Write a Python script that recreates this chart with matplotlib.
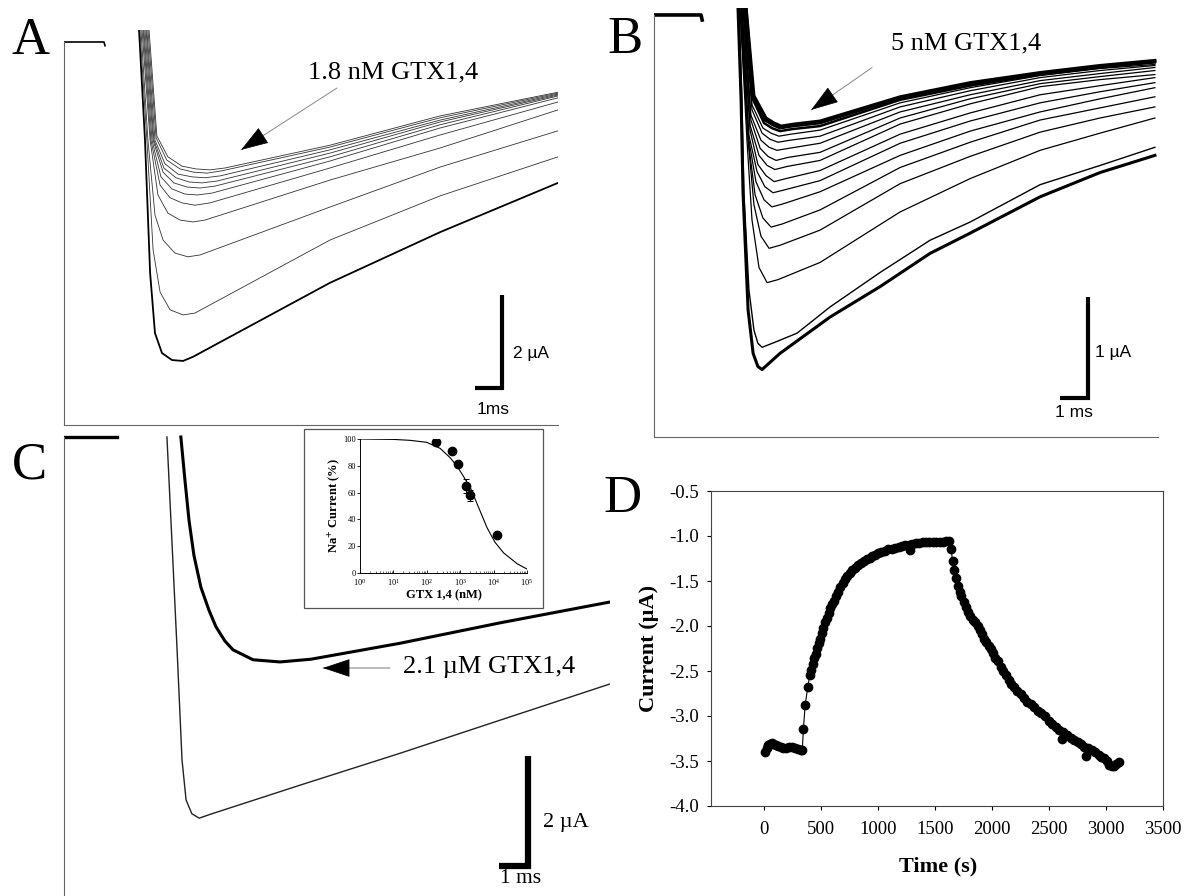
import matplotlib
matplotlib.use("Agg")
import matplotlib.pyplot as plt
from matplotlib.patches import Rectangle
from matplotlib.ticker import FuncFormatter, LogLocator, NullFormatter, LogFormatterMathtext

plt.rcParams['font.family'] = ['Liberation Serif', 'DejaVu Serif']
plt.rcParams['mathtext.fontset'] = 'stix'
plt.rcParams['axes.unicode_minus'] = False
SERIF = ['Liberation Serif', 'DejaVu Serif']
SANS = ['Liberation Sans', 'DejaVu Sans']

# ---------------- Panel A : 1.8 nM GTX1,4 (time ms, current uA) ----------------
A_times = [
    [2.78, 3.00, 3.19, 3.37, 3.63, 4.00, 4.41, 4.78, 9.85, 13.93, 18.30],
    [2.81, 3.07, 3.30, 3.56, 3.93, 4.41, 4.85, 9.85, 13.93, 18.30],
    [2.85, 3.11, 3.37, 3.67, 4.11, 4.59, 5.04, 9.85, 13.93, 18.30],
    [2.89, 3.19, 3.48, 3.85, 4.30, 4.78, 5.22, 9.85, 13.93, 18.30],
    [2.93, 3.22, 3.56, 3.93, 4.37, 4.85, 5.41, 9.85, 13.93, 18.30],
    [2.96, 3.26, 3.59, 4.00, 4.48, 4.93, 5.48, 9.85, 13.93, 18.30],
    [3.00, 3.30, 3.67, 4.07, 4.56, 5.04, 5.59, 9.85, 13.93, 18.30],
    [3.04, 3.33, 3.70, 4.15, 4.63, 5.11, 5.67, 9.85, 13.93, 18.30],
    [3.07, 3.37, 3.74, 4.22, 4.74, 5.22, 5.78, 9.85, 13.93, 18.30],
    [3.11, 3.41, 3.81, 4.30, 4.81, 5.30, 5.85, 9.85, 13.93, 18.30],
    [3.15, 3.44, 3.85, 4.37, 4.89, 5.41, 5.96, 9.85, 13.93, 18.30],
]
A_currents = [
    [0.26, -2.11, -4.97, -6.26, -6.69, -6.84, -6.86, -6.77, -5.18, -4.09, -3.03],
    [0.26, -2.11, -4.47, -5.38, -5.76, -5.87, -5.83, -4.26, -3.31, -2.47],
    [0.26, -2.11, -3.72, -4.26, -4.54, -4.62, -4.58, -3.55, -2.69, -1.91],
    [0.26, -2.11, -3.29, -3.68, -3.83, -3.87, -3.83, -2.97, -2.28, -1.46],
    [0.26, -2.11, -3.08, -3.35, -3.46, -3.51, -3.46, -2.71, -2.00, -1.29],
    [0.26, -2.11, -2.90, -3.16, -3.27, -3.29, -3.25, -2.56, -1.85, -1.20],
    [0.26, -2.11, -2.80, -3.03, -3.12, -3.14, -3.10, -2.47, -1.78, -1.16],
    [0.26, -2.11, -2.71, -2.92, -3.01, -3.03, -2.99, -2.39, -1.72, -1.14],
    [0.26, -2.11, -2.62, -2.84, -2.90, -2.92, -2.88, -2.32, -1.68, -1.12],
    [0.26, -2.06, -2.54, -2.73, -2.80, -2.82, -2.77, -2.26, -1.63, -1.10],
    [0.26, -2.02, -2.47, -2.67, -2.73, -2.75, -2.71, -2.22, -1.59, -1.08],
]
A_base_t = [0.0, 1.48, 1.52]
A_base_I = [0.0, 0.0, -0.08]

# ---------------- Panel B : 5 nM GTX1,4 ----------------
B_late_t = [5.93, 8.79, 11.29, 13.79, 15.93, 17.89]
B_times = [
    [3.00, 3.11, 3.18, 3.36, 3.54, 3.71, 3.86, 4.50, 6.29, 8.07, 9.86, 11.29, 13.79, 15.93, 17.89],
    [3.04, 3.14, 3.21, 3.39, 3.57, 3.71, 3.86, 4.32, 5.11, 6.29, 8.07, 9.86, 11.29, 13.79, 15.93, 17.89],
    [3.07, 3.32, 3.50, 3.75, 4.04, 4.43] + B_late_t,
    [3.07, 3.36, 3.57, 3.82, 4.11, 4.50] + B_late_t,
    [3.11, 3.36, 3.61, 3.89, 4.18, 4.57] + B_late_t,
    [3.11, 3.39, 3.64, 3.93, 4.21, 4.61] + B_late_t,
    [3.14, 3.39, 3.68, 3.96, 4.25, 4.68] + B_late_t,
    [3.14, 3.43, 3.71, 4.00, 4.29, 4.71] + B_late_t,
    [3.18, 3.43, 3.75, 4.04, 4.32, 4.75] + B_late_t,
    [3.18, 3.46, 3.79, 4.07, 4.36, 4.79] + B_late_t,
    [3.21, 3.46, 3.82, 4.11, 4.39, 4.82] + B_late_t,
    [3.21, 3.50, 3.86, 4.14, 4.43, 4.86] + B_late_t,
    [3.25, 3.50, 3.89, 4.18, 4.46, 4.89] + B_late_t,
    [3.25, 3.54, 3.93, 4.21, 4.50, 4.93] + B_late_t,
    [3.29, 3.54, 3.96, 4.25, 4.50, 4.96] + B_late_t,
    [3.29, 3.57, 4.00, 4.29, 4.54, 5.00] + B_late_t,
]
B_currents = [
    [0.07, -0.84, -1.76, -2.92, -3.35, -3.48, -3.51, -3.35, -2.99, -2.69, -2.36, -2.16, -1.80, -1.56, -1.39],
    [0.07, -0.84, -1.76, -2.72, -3.12, -3.25, -3.29, -3.24, -3.15, -2.89, -2.55, -2.23, -2.05, -1.68, -1.49, -1.31],
    [0.07, -1.24, -2.03, -2.50, -2.65, -2.62, -2.45, -1.95, -1.62, -1.34, -1.17, -1.02],
    [0.07, -1.24, -1.88, -2.19, -2.31, -2.28, -2.13, -1.67, -1.40, -1.16, -1.02, -0.91],
    [0.07, -1.24, -1.78, -2.01, -2.10, -2.07, -1.93, -1.51, -1.26, -1.04, -0.92, -0.81],
    [0.07, -1.24, -1.65, -1.83, -1.90, -1.87, -1.75, -1.39, -1.15, -0.96, -0.83, -0.72],
    [0.07, -1.19, -1.55, -1.70, -1.76, -1.73, -1.64, -1.27, -1.05, -0.87, -0.76, -0.67],
    [0.07, -1.14, -1.48, -1.59, -1.65, -1.62, -1.54, -1.18, -0.97, -0.79, -0.70, -0.62],
    [0.07, -1.09, -1.39, -1.49, -1.53, -1.50, -1.44, -1.08, -0.88, -0.71, -0.64, -0.59],
    [0.07, -1.04, -1.32, -1.40, -1.44, -1.41, -1.36, -1.02, -0.83, -0.68, -0.61, -0.55],
    [0.07, -0.99, -1.24, -1.31, -1.34, -1.32, -1.27, -0.96, -0.79, -0.65, -0.58, -0.52],
    [0.07, -0.94, -1.17, -1.23, -1.26, -1.24, -1.20, -0.91, -0.75, -0.62, -0.55, -0.50],
    [0.07, -0.89, -1.12, -1.17, -1.20, -1.18, -1.14, -0.87, -0.72, -0.60, -0.53, -0.49],
    [0.07, -0.84, -1.07, -1.12, -1.15, -1.13, -1.10, -0.84, -0.70, -0.59, -0.52, -0.47],
    [0.07, -0.82, -1.04, -1.09, -1.12, -1.10, -1.07, -0.82, -0.68, -0.58, -0.51, -0.46],
    [0.07, -0.80, -1.02, -1.07, -1.10, -1.08, -1.05, -0.81, -0.67, -0.57, -0.50, -0.45],
]
B_base_t = [0.0, 1.68, 1.72]
B_base_I = [0.0, 0.0, -0.05]

# ---------------- Panel C : control vs 2.1 uM GTX1,4 ----------------
C_control_t = [3.55, 3.72, 3.90, 4.07, 4.21, 4.41, 4.66, 5.10, 8.14, 11.59, 15.03, 18.83]
C_control_I = [0.0, -1.87, -3.87, -5.87, -6.60, -6.85, -6.93, -6.85, -6.33, -5.75, -5.15, -4.49]
C_toxin_t = [4.03, 4.17, 4.31, 4.48, 4.72, 5.00, 5.24, 5.55, 5.83, 6.52, 7.45, 8.52, 11.59, 15.03, 18.83]
C_toxin_I = [0.0, -0.78, -1.51, -2.15, -2.73, -3.15, -3.45, -3.71, -3.87, -4.05, -4.09, -4.04, -3.75, -3.38, -3.00]
C_base_t = [0.0, 1.83]
C_base_I = [0.0, 0.0]

# ---------------- Inset : dose response ----------------
inset_conc_nM = [190, 560, 850, 1480, 1950, 12600]
inset_current_pct = [98, 91, 81, 65, 58, 28]
inset_err_pct = [0, 0, 2, 5, 4, 0]
fit_conc_nM = [1, 10, 31.6, 100, 251, 501, 794, 1259, 1995, 3162, 4467, 6310,
               10965, 19953, 31623, 50119, 75858, 100000]
fit_current_pct = [100, 99.7, 99, 97.5, 93, 86, 80, 72, 64, 52, 43, 34,
                   23, 15, 11, 7, 4.5, 3]

# ---------------- Panel D : time course ----------------
D_time_s = [10, 22, 35, 50, 65, 80, 100, 120, 145, 170, 195, 220, 245, 270, 295, 320, 335,
            345, 360, 383, 400, 412, 427, 440, 453, 466, 478, 492, 505, 520, 535, 550, 565,
            580, 595, 610, 630, 650, 670, 690, 710, 730, 750, 775, 800, 825, 850, 875, 900,
            925, 950, 975, 1000, 1030, 1060, 1090, 1120, 1150, 1180, 1210, 1240, 1270, 1282,
            1300, 1330, 1360, 1390, 1420, 1450, 1480, 1510, 1540, 1570, 1600, 1625,
            1640, 1655, 1670, 1685, 1700, 1715, 1730, 1750, 1770, 1790, 1810, 1830, 1850,
            1873, 1890, 1910, 1930, 1950, 1970, 1990, 2010, 2030, 2050, 2075, 2096, 2120,
            2145, 2170, 2195, 2220, 2250, 2280, 2310, 2340, 2370, 2400, 2430, 2465, 2500,
            2530, 2560, 2590, 2612, 2625, 2660, 2690, 2720, 2750, 2780, 2810, 2826, 2845,
            2875, 2905, 2935, 2960, 2985, 3007, 3030, 3050, 3070, 3090, 3110]
D_current_uA = [-3.40, -3.36, -3.32, -3.31, -3.30, -3.31, -3.32, -3.33, -3.34, -3.35, -3.35,
                -3.34, -3.34, -3.35, -3.37, -3.38, -3.38,
                -3.14, -2.88, -2.68, -2.55, -2.49, -2.42, -2.36, -2.31, -2.24, -2.19, -2.14,
                -2.08, -2.02, -1.96, -1.91, -1.85, -1.80, -1.76, -1.72, -1.67, -1.62, -1.57,
                -1.52, -1.48, -1.44, -1.41, -1.38, -1.35, -1.32, -1.30, -1.28, -1.26, -1.24,
                -1.22, -1.21, -1.19, -1.18, -1.17, -1.15, -1.14, -1.13, -1.12, -1.11, -1.10,
                -1.10, -1.16, -1.09, -1.08, -1.08, -1.07, -1.07, -1.07, -1.07, -1.07, -1.07,
                -1.07, -1.06, -1.05,
                -1.15, -1.28, -1.38, -1.47, -1.56, -1.62, -1.67, -1.73, -1.79, -1.84, -1.89,
                -1.93, -1.96, -2.00, -2.04, -2.09, -2.14, -2.18, -2.22, -2.26, -2.30, -2.35,
                -2.39, -2.45, -2.50, -2.55, -2.60, -2.64, -2.68, -2.72, -2.76, -2.80, -2.84,
                -2.87, -2.90, -2.94, -2.97, -3.00, -3.05, -3.09, -3.12, -3.15, -3.26, -3.18,
                -3.21, -3.24, -3.27, -3.29, -3.31, -3.34, -3.44, -3.36, -3.38, -3.40, -3.43,
                -3.45, -3.47, -3.50, -3.54, -3.56, -3.55, -3.53, -3.51]
D_xticks = [0, 500, 1000, 1500, 2000, 2500, 3000, 3500]
D_yticks = [-4.0, -3.5, -3.0, -2.5, -2.0, -1.5, -1.0, -0.5]

# ================= drawing =================
W, H = 1184, 896
fig = plt.figure(figsize=(W / 100, H / 100), dpi=100)


def px_axes(x0, y0, x1, y1):
    return fig.add_axes([x0 / W, 1 - y1 / H, (x1 - x0) / W, (y1 - y0) / H])


def trace_axes(box, xlim, ylim, bottom=True):
    ax = px_axes(*box)
    ax.set_xlim(*xlim)
    ax.set_ylim(*ylim)
    ax.set_xticks([])
    ax.set_yticks([])
    ax.patch.set_visible(False)
    for s in ('top', 'right'):
        ax.spines[s].set_visible(False)
    ax.spines['left'].set_bounds(ylim[0], 0)
    for s in ('left', 'bottom'):
        ax.spines[s].set_color('#666666')
        ax.spines[s].set_linewidth(0.8)
    if not bottom:
        ax.spines['bottom'].set_visible(False)
    return ax


def scalebar(ax, x_right, y_bottom, dx, dy, lw):
    ax.plot([x_right - dx, x_right, x_right], [y_bottom, y_bottom, y_bottom + dy],
            color='black', lw=lw, solid_joinstyle='miter', solid_capstyle='butt')


def arrow(ax, start, back, tip, line_color):
    ax.annotate('', xy=tip, xytext=start,
                arrowprops=dict(arrowstyle='-', color=line_color, lw=0.7,
                                shrinkA=0, shrinkB=0), annotation_clip=False)
    ax.annotate('', xy=tip, xytext=back,
                arrowprops=dict(arrowstyle='-|>,head_length=1.5,head_width=0.5',
                                mutation_scale=12, color='black', lw=0.5,
                                shrinkA=0, shrinkB=0), annotation_clip=False)


# ---- A ----
axA = trace_axes((64, 30, 558, 425), (0, 18.30), (-8.237, 0.258))
A_lw = [1.3] + [0.6] * 10
for t, i, lw in zip(A_times, A_currents, A_lw):
    axA.plot(t, i, color='black' if lw > 1 else '#333333', lw=lw, solid_joinstyle='round')
axA.plot(A_base_t, A_base_I, color='black', lw=1.2)
scalebar(axA, 16.22, -7.44, 1, 2, 3.0)
axA.text(16.63, -6.69, '2 µA', family=SANS, fontsize=12.5, ha='left', va='center')
axA.text(15.9, -7.91, '1ms', family=SANS, fontsize=12.5, ha='center', va='center')
axA.text(12.19, -0.65, '1.8 nM GTX1,4', family=SERIF, fontsize=19, ha='center', va='center')
arrow(axA, (10.11, -0.99), (7.33, -2.03), (6.56, -2.32), '#888888')

# ---- B ----
axB = trace_axes((654, 8, 1158, 437), (0, 18.0), (-4.178, 0.069))
B_lw = [2.2, 1.0] + [0.9] * 11 + [1.8, 2.0, 2.2]
for t, i, lw in zip(B_times, B_currents, B_lw):
    axB.plot(t, i, color='black', lw=lw, solid_joinstyle='round')
axB.plot(B_base_t, B_base_I, color='black', lw=2.6)
scalebar(axB, 15.5, -3.79, 1, 1, 3.0)
axB.text(15.75, -3.34, '1 µA', family=SANS, fontsize=12.5, ha='left', va='center')
axB.text(15.0, -3.94, '1 ms', family=SANS, fontsize=12.5, ha='center', va='center')
axB.text(11.14, -0.28, '5 nM GTX1,4', family=SERIF, fontsize=19, ha='center', va='center')
arrow(axB, (7.79, -0.52), (6.34, -0.80), (5.61, -0.94), '#888888')

# ---- C ----
axC = trace_axes((64, 435, 610, 896), (0, 18.83), (-8.345, 0.036), bottom=False)
axC.plot(C_control_t, C_control_I, color='#222222', lw=1.0, solid_joinstyle='round')
axC.plot(C_toxin_t, C_toxin_I, color='black', lw=2.2, solid_joinstyle='round')
axC.plot(C_base_t, C_base_I, color='black', lw=2.4)
scalebar(axC, 16.0, -7.80, 1, 2, 4.5)
axC.text(16.52, -7.0, '2 µA', family=SERIF, fontsize=16, ha='left', va='center')
axC.text(15.76, -8.02, '1 ms', family=SERIF, fontsize=15.5, ha='center', va='center')
axC.text(11.69, -4.18, '2.1 µM GTX1,4', family=SERIF, fontsize=19, ha='left', va='center')
arrow(axC, (11.24, -4.20), (9.79, -4.20), (8.93, -4.20), '#777777')

# ---- inset ----
fig.add_artist(Rectangle((304 / W, 1 - 608 / H), 239 / W, 179 / H, transform=fig.transFigure,
                         fill=False, lw=0.9, ec='#555555'))
axI = px_axes(360, 439, 527, 573)
axI.set_xscale('log')
axI.set_xlim(1, 1e5)
axI.set_ylim(0, 100)
axI.plot(fit_conc_nM, fit_current_pct, color='black', lw=0.8)
axI.errorbar(inset_conc_nM, inset_current_pct, yerr=inset_err_pct, fmt='o', color='black',
             ms=6, capsize=2, elinewidth=0.7, capthick=0.7)
for s in ('top', 'right'):
    axI.spines[s].set_visible(False)
for s in ('left', 'bottom'):
    axI.spines[s].set_linewidth(0.7)
axI.set_yticks([0, 20, 40, 60, 80, 100])
axI.xaxis.set_major_locator(LogLocator(base=10, numticks=10))
axI.xaxis.set_major_formatter(LogFormatterMathtext())
axI.xaxis.set_minor_locator(LogLocator(base=10, subs=tuple(range(2, 10)), numticks=20))
axI.xaxis.set_minor_formatter(NullFormatter())
axI.tick_params(axis='y', direction='out', length=2, width=0.6, pad=1, labelsize=6)
axI.tick_params(axis='x', which='major', direction='in', length=2.5, width=0.6, pad=3, labelsize=6)
axI.tick_params(axis='x', which='minor', direction='in', length=1.5, width=0.4)
axI.set_xlabel('GTX 1,4 (nM)', fontsize=9, fontweight='bold', labelpad=0.5)
axI.set_ylabel(r'Na$^{\mathbf{+}}$ Current (%)', fontsize=9, fontweight='bold', labelpad=1)

# ---- D ----
axD = px_axes(711, 491, 1163, 806)
axD.plot(D_time_s, D_current_uA, '-o', color='black', lw=0.8, ms=6, mfc='black', mec='black')
axD.set_xlim(-466, 3500)
axD.set_ylim(-4.0, -0.5)
axD.set_xticks(D_xticks)
axD.set_yticks(D_yticks)
axD.yaxis.set_major_formatter(FuncFormatter(lambda v, p: f"{v:.1f}"))
axD.tick_params(axis='both', direction='out', length=3, width=0.8, labelsize=13.5)
axD.tick_params(axis='x', pad=8)
axD.tick_params(axis='y', pad=6)
for s in axD.spines.values():
    s.set_linewidth(0.8)
    s.set_color('#444444')
axD.set_ylabel('Current (µA)', fontsize=16, fontweight='bold')
axD.yaxis.set_label_coords(-0.115, 0.5)
axD.set_xlabel('Time (s)', fontsize=16, fontweight='bold')
axD.xaxis.set_label_coords(0.502, -0.159)

# ---- panel letters ----
for letter, x, y in (('A', 11, 54), ('B', 607, 53), ('C', 12, 478), ('D', 603, 512)):
    fig.text(x / W, 1 - y / H, letter, family=SERIF, fontsize=38, ha='left', va='baseline')

fig.savefig('out.png', dpi=100)
